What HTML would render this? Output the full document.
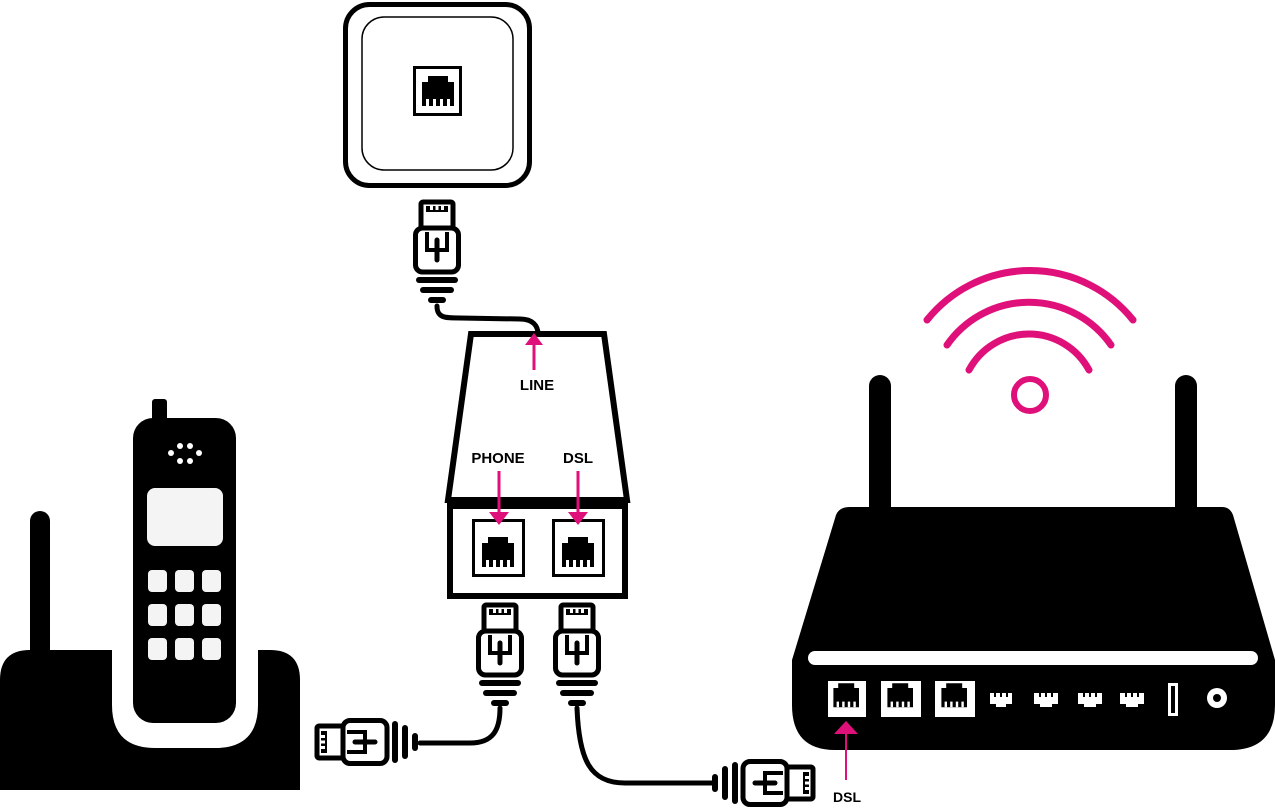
<!DOCTYPE html>
<html><head><meta charset="utf-8"><style>
html,body{margin:0;padding:0;background:#fff;}
svg{display:block;}
text{font-family:"Liberation Sans",sans-serif;font-weight:bold;fill:#000;}
</style></head><body>
<svg width="1275" height="808" viewBox="0 0 1275 808" xmlns="http://www.w3.org/2000/svg">
<defs>
  <g id="rj">
    <path d="M14,9 H34 V15 H40 V39 H8 V15 H14 Z" fill="#000"/>
    <rect x="12" y="32" width="3" height="7" fill="#fff"/>
    <rect x="19" y="32" width="3" height="7" fill="#fff"/>
    <rect x="26" y="32" width="3" height="7" fill="#fff"/>
    <rect x="33" y="32" width="3" height="7" fill="#fff"/>
  </g>
  <g id="plug">
    <rect x="-16" y="2" width="32" height="26" rx="2" fill="#fff" stroke="#000" stroke-width="5"/>
    <path d="M-11,6 H11 V12 H-11 Z" fill="#000"/>
    <rect x="-7" y="5" width="3" height="5" fill="#fff"/>
    <rect x="-1.5" y="5" width="3" height="5" fill="#fff"/>
    <rect x="4" y="5" width="3" height="5" fill="#fff"/>
    <rect x="-21.5" y="28" width="43" height="44" rx="7" fill="#fff" stroke="#000" stroke-width="5"/>
    <path d="M-10,32 V50 H10 V32" fill="none" stroke="#000" stroke-width="4"/>
    <line x1="0" y1="40" x2="0" y2="60" stroke="#000" stroke-width="5" stroke-linecap="round"/>
    <rect x="-21" y="77" width="42" height="6" rx="3" fill="#000"/>
    <rect x="-17" y="87" width="34" height="6" rx="3" fill="#000"/>
    <rect x="-9" y="97" width="18" height="6" rx="3" fill="#000"/>
  </g>
</defs>

<!-- wall socket -->
<rect x="345.5" y="4.5" width="184" height="181" rx="24" fill="#fff" stroke="#000" stroke-width="5"/>
<rect x="362" y="17" width="151" height="153" rx="22" fill="none" stroke="#000" stroke-width="1.5"/>
<rect x="414.5" y="67.5" width="46" height="47" fill="#fff" stroke="#000" stroke-width="3"/>
<use href="#rj" transform="translate(414,67)"/>

<!-- top plug and cable -->
<use href="#plug" transform="translate(437,200)"/>
<path d="M437,306 C437,318 445,318 460,318 L520,319 C533,319 538,326 538,334" fill="none" stroke="#000" stroke-width="5" stroke-linecap="round"/>

<!-- splitter -->
<path d="M471,334 H604 L627,500 H448 Z" fill="#fff" stroke="#000" stroke-width="6" stroke-linejoin="miter"/>
<rect x="450" y="500" width="175" height="96" fill="#fff" stroke="#000" stroke-width="6"/>
<rect x="450" y="497" width="175" height="12" fill="#000"/>
<rect x="473.5" y="520.5" width="50" height="55" fill="#fff" stroke="#000" stroke-width="3"/>
<use href="#rj" transform="translate(474,528)"/>
<rect x="553.5" y="520.5" width="50" height="55" fill="#fff" stroke="#000" stroke-width="3"/>
<use href="#rj" transform="translate(554,528)"/>

<!-- splitter plugs -->
<use href="#plug" transform="translate(500,603)"/>
<use href="#plug" transform="translate(577,603)"/>
<path d="M500,708 C500,730 493,743 470,743 L420,743" fill="none" stroke="#000" stroke-width="5" stroke-linecap="round"/>
<path d="M577,708 C579,760 590,783 625,783 L715,783" fill="none" stroke="#000" stroke-width="5" stroke-linecap="round"/>
<use href="#plug" transform="translate(315,742) rotate(-90)"/>
<use href="#plug" transform="translate(815,783) rotate(90)"/>

<!-- phone base -->
<rect x="30" y="511" width="20" height="150" rx="10" fill="#000"/>
<path d="M30,650 H112 V705 Q112,748 155,748 H215 Q258,748 258,705 V650 H270 Q300,650 300,680 V790 H0 V680 Q0,650 30,650 Z" fill="#000"/>
<!-- handset -->
<rect x="152" y="399" width="15" height="30" rx="3" fill="#000"/>
<rect x="133" y="418" width="103" height="305" rx="20" fill="#000"/>
<g fill="#fff">
  <circle cx="180" cy="446" r="3"/><circle cx="190" cy="446" r="3"/>
  <circle cx="171" cy="453" r="3"/><circle cx="199" cy="453" r="3"/>
  <circle cx="180" cy="461" r="3"/><circle cx="190" cy="461" r="3"/>
</g>
<rect x="147" y="488" width="76" height="58" rx="8" fill="#f4f4f4"/>
<g fill="#f4f4f4">
  <rect x="148" y="570" width="19" height="22" rx="4"/><rect x="175" y="570" width="19" height="22" rx="4"/><rect x="202" y="570" width="19" height="22" rx="4"/>
  <rect x="148" y="604" width="19" height="22" rx="4"/><rect x="175" y="604" width="19" height="22" rx="4"/><rect x="202" y="604" width="19" height="22" rx="4"/>
  <rect x="148" y="638" width="19" height="22" rx="4"/><rect x="175" y="638" width="19" height="22" rx="4"/><rect x="202" y="638" width="19" height="22" rx="4"/>
</g>

<!-- wifi -->
<g fill="none" stroke="#e0107a" stroke-width="7" stroke-linecap="round">
  <circle cx="1030" cy="395" r="16" stroke-width="6"/>
  <path d="M927,320 A132,132 0 0 1 1133,320"/>
  <path d="M947,345 A100,100 0 0 1 1111,345"/>
  <path d="M969,370 A68,68 0 0 1 1089,370"/>
</g>

<!-- router -->
<rect x="869" y="375" width="22" height="150" rx="11" fill="#000"/>
<rect x="1175" y="375" width="22" height="150" rx="11" fill="#000"/>
<path d="M850,507 H1222 Q1230,507 1233,515 L1275,660 V705 Q1275,750 1230,750 H835 Q792,750 792,705 V660 L836,515 Q839,507 850,507 Z" fill="#000"/>
<rect x="808" y="651" width="450" height="14" rx="7" fill="#fff"/>
<g>
  <rect x="828" y="681" width="38" height="36" fill="#fff"/>
  <use href="#rj" transform="translate(827,676) scale(0.8)"/>
  <rect x="881" y="681" width="40" height="36" fill="#fff"/>
  <use href="#rj" transform="translate(881,676) scale(0.8)"/>
  <rect x="935" y="681" width="40" height="36" fill="#fff"/>
  <use href="#rj" transform="translate(935,676) scale(0.8)"/>
</g>
<g fill="#fff">
  <path d="M990,693 H1012 V704 H1006 V707 H996 V704 H990 Z"/>
  <path d="M1034,693 H1058 V704 H1052 V707 H1040 V704 H1034 Z"/>
  <path d="M1078,693 H1102 V704 H1096 V707 H1084 V704 H1078 Z"/>
  <path d="M1120,693 H1144 V704 H1138 V707 H1126 V704 H1120 Z"/>
  <rect x="1168" y="683" width="10" height="33"/>
  <circle cx="1217" cy="698" r="10"/>
</g>
<g fill="#000">
  <rect x="994" y="693" width="2" height="4"/><rect x="1000" y="693" width="2" height="4"/><rect x="1006" y="693" width="2" height="4"/>
  <rect x="1039" y="693" width="2" height="4"/><rect x="1045" y="693" width="2" height="4"/><rect x="1051" y="693" width="2" height="4"/>
  <rect x="1083" y="693" width="2" height="4"/><rect x="1089" y="693" width="2" height="4"/><rect x="1095" y="693" width="2" height="4"/>
  <rect x="1125" y="693" width="2" height="4"/><rect x="1131" y="693" width="2" height="4"/><rect x="1137" y="693" width="2" height="4"/>
  <rect x="1171" y="686" width="4" height="27"/>
  <circle cx="1217" cy="698" r="4"/>
</g>

<!-- pink labels/arrows -->
<g fill="#e0107a" stroke="#e0107a">
  <line x1="534" y1="370" x2="534" y2="344" stroke-width="3"/>
  <path d="M525,345 L534,333 L543,345 Z" stroke="none"/>
  <line x1="499" y1="471" x2="499" y2="513" stroke-width="3"/>
  <path d="M489,512 L499,525 L509,512 Z" stroke="none"/>
  <line x1="578" y1="471" x2="578" y2="513" stroke-width="3"/>
  <path d="M568,512 L578,525 L588,512 Z" stroke="none"/>
  <line x1="846" y1="780" x2="846" y2="733" stroke-width="2"/>
  <path d="M834,734 L846,721 L858,734 Z" stroke="none"/>
</g>
<text x="537" y="390" font-size="15" text-anchor="middle">LINE</text>
<text x="498" y="463" font-size="15" text-anchor="middle">PHONE</text>
<text x="578" y="463" font-size="15" text-anchor="middle">DSL</text>
<text x="847" y="802" font-size="14" text-anchor="middle">DSL</text>
</svg>
</body></html>
